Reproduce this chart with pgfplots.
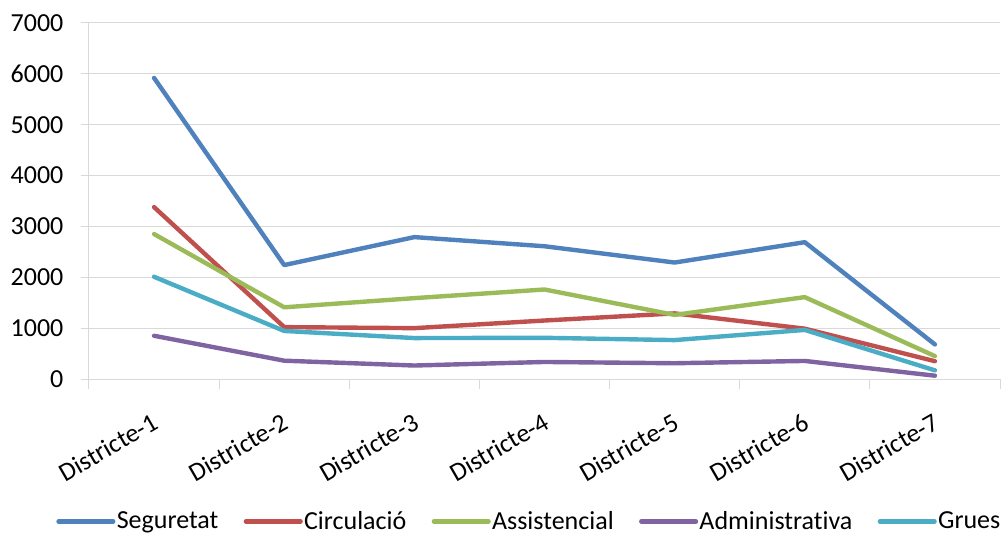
\documentclass[border=0pt]{standalone}
\usepackage{fontspec}
\setmainfont{Carlito}[Ligatures=NoCommon]
\usepackage{pgfplots}
\pgfplotsset{compat=1.18}
\usetikzlibrary{calc}

\definecolor{cseg}{HTML}{4F81BD}
\definecolor{ccir}{HTML}{C0504D}
\definecolor{cass}{HTML}{9BBB59}
\definecolor{cadm}{HTML}{8064A2}
\definecolor{cgru}{HTML}{4BACC6}
\definecolor{gridgray}{HTML}{D9D9D9}

\begin{document}
\begin{tikzpicture}
  \begin{axis}[
    scale only axis, width=683.25pt, height=267pt,
    xmin=0.5, xmax=7.5, ymin=0, ymax=7000,
    axis lines*=left,
    axis line style={draw=gridgray, line width=0.75pt},
    ytick={0,1000,...,7000},
    ymajorgrids,
    grid style={gridgray, line width=0.75pt},
    xtick={1,...,7},
    xticklabels={Districte-1,Districte-2,Districte-3,Districte-4,Districte-5,Districte-6,Districte-7},
    minor xtick={0.5,1.5,...,7.5},
    major x tick style={draw=none},
    minor x tick style={draw=gridgray, line width=0.75pt},
    y tick style={draw=gridgray, line width=0.75pt},
    minor tick length=7.5pt,
    major tick length=6pt,
    tick align=outside,
    font=\fontsize{19.5}{23}\selectfont,
    /pgf/number format/assume math mode=true,
    /pgf/number format/set thousands separator={},
    yticklabel style={anchor=east, inner sep=0pt, xshift=-13pt},
    xticklabel style={rotate=30, anchor=north east, inner sep=0pt, yshift=-15pt, xshift=-11pt},
    legend columns=-1,
    legend style={at={(0.483,-0.40)}, anchor=center, draw=none, fill=none,
      nodes={inner sep=1pt},
      /tikz/every even column/.append style={column sep=18pt}},
    legend image code/.code={\draw[#1] (0pt,0pt) -- (41pt,0pt);},
    every axis plot/.append style={line width=3.3pt, line cap=round, line join=round},
  ]
    \coordinate (A) at (rel axis cs:0,0);
    \coordinate (B) at (rel axis cs:1,1);

    \addplot[cseg] coordinates {(1,5920) (2,2240) (3,2790) (4,2610) (5,2290) (6,2690) (7,680)};
    \addlegendentry{Seguretat}
    \addplot[ccir] coordinates {(1,3380) (2,1020) (3,1000) (4,1150) (5,1290) (6,990) (7,350)};
    \addlegendentry{Circulació}
    \addplot[cass] coordinates {(1,2850) (2,1410) (3,1590) (4,1760) (5,1260) (6,1610) (7,450)};
    \addlegendentry{Assistencial}
    \addplot[cadm] coordinates {(1,850) (2,360) (3,265) (4,335) (5,310) (6,355) (7,65)};
    \addlegendentry{Administrativa}
    \addplot[cgru] coordinates {(1,2010) (2,945) (3,805) (4,810) (5,765) (6,965) (7,170)};
    \addlegendentry{Grues}
  \end{axis}
  \pgfresetboundingbox
  \path[use as bounding box] ($(A)+(-66.75pt,-117pt)$) rectangle ($(B)+(0.75pt,17.25pt)$);
\end{tikzpicture}
\end{document}
